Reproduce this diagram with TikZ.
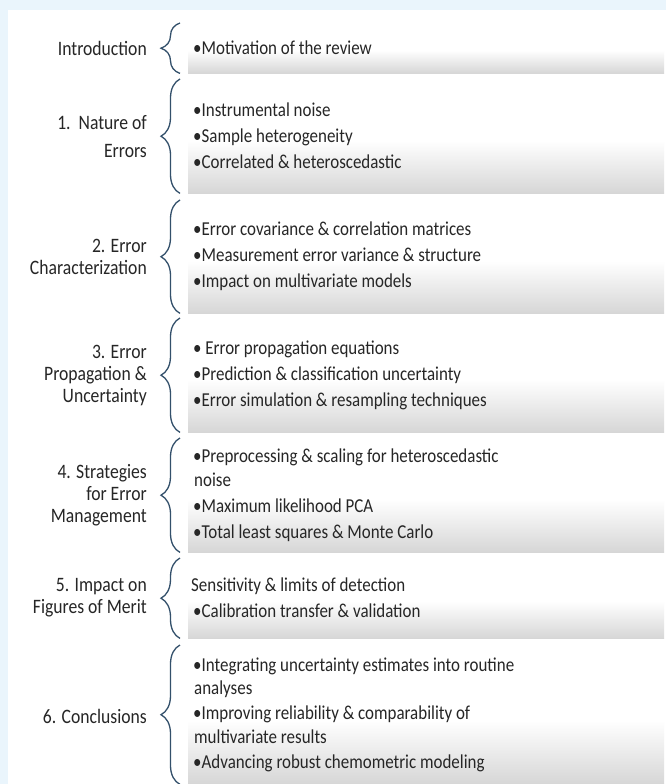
\documentclass[tikz,border=0pt]{standalone}
\usepackage{fontspec}
\setmainfont{Carlito}[FakeStretch=0.86]
\usetikzlibrary{decorations.pathreplacing}
\definecolor{bgblue}{HTML}{EAF5FC}
\definecolor{bracecol}{HTML}{33506B}
\definecolor{txt}{HTML}{262626}
\pgfdeclareverticalshading{boxshade}{100bp}{color(0bp)=(black!16); color(25bp)=(black!16); color(48bp)=(white); color(100bp)=(white)}
\begin{document}
\begin{tikzpicture}[x=1pt,y=-1pt,
  boxstyle/.style={draw=none,shading=boxshade,
    minimum width=476pt,inner sep=0pt,anchor=north west},
  items/.style={anchor=west,align=left,inner sep=0pt,text=txt,
    font=\fontsize{19.7}{23.5}\selectfont},
  lab/.style={anchor=east,align=right,inner sep=0pt,text=txt,
    font=\fontsize{20.5}{22}\selectfont},
  bracestyle/.style={draw=bracecol,line width=1.3pt,
    decorate,decoration={brace,amplitude=19pt,aspect=0.5}}
]
\useasboundingbox (0,0) rectangle (666,784);
\fill[bgblue] (0,0) rectangle (666,784);
\fill[white] (8,10) rectangle (666,784);

% boxes
\node[boxstyle,minimum height=50pt]  (b0) at (188,23)  {};
\node[boxstyle,minimum height=114pt] (b1) at (188,79)  {};
\node[boxstyle,minimum height=113pt] (b2) at (188,200) {};
\node[boxstyle,minimum height=114pt] (b3) at (188,318) {};
\node[boxstyle,minimum height=114pt] (b4) at (188,438) {};
\node[boxstyle,minimum height=80pt]  (b5) at (188,558) {};
\node[boxstyle,minimum height=139pt] (b6) at (188,645) {};

% braces
\foreach \b in {b0,b1,b2,b3,b4,b5,b6}{
  \draw[bracestyle] ([xshift=-8pt]\b.south west) -- ([xshift=-8pt]\b.north west);
}

% items
\node[items] (t0) at ([xshift=5pt]b0.west) {•Motivation of the review};
\node[items] (t1) at ([xshift=5pt]b1.west) {•Instrumental noise\\[2.5pt]•Sample heterogeneity\\[2.5pt]•Correlated \& heteroscedastic};
\node[items] (t2) at ([xshift=5pt]b2.west) {•Error covariance \& correlation matrices\\[2.5pt]•Measurement error variance \& structure\\[2.5pt]•Impact on multivariate models};
\node[items] (t3) at ([xshift=5pt]b3.west) {• Error propagation equations\\[2.5pt]•Prediction \& classification uncertainty\\[2.5pt]•Error simulation \& resampling techniques};
\node[items] (t4) at ([xshift=5pt]b4.west) {•Preprocessing \& scaling for heteroscedastic\\\hspace*{1pt}noise\\[2.5pt]•Maximum likelihood PCA\\[2.5pt]•Total least squares \& Monte Carlo};
\node[items] (t5) at ([xshift=3pt]b5.west) {Sensitivity \& limits of detection\\[2.5pt]\hspace*{2pt}•Calibration transfer \& validation};
\node[items] (t6) at ([xshift=5pt]b6.west) {•Integrating uncertainty estimates into routine\\\hspace*{1pt}analyses\\[1.5pt]•Improving reliability \& comparability of\\\hspace*{1pt}multivariate results\\[1.5pt]•Advancing robust chemometric modeling};

% labels
\node[lab] (l0) at (147,48)  {Introduction};
\node[lab] (l1) at (147,137) {1.\ \ Nature of\\[6pt]Errors};
\node[lab] (l2) at (147,256.5) {2. Error\\Characterization};
\node[lab] (l3) at (147,375) {3. Error\\Propagation \&\\Uncertainty};
\node[lab] (l4) at (147,495) {4. Strategies\\for Error\\Management};
\node[lab] (l5) at (147,598) {5. Impact on\\Figures of Merit};
\node[lab] (l6) at (147,716) {6. Conclusions};
\end{tikzpicture}
\end{document}
